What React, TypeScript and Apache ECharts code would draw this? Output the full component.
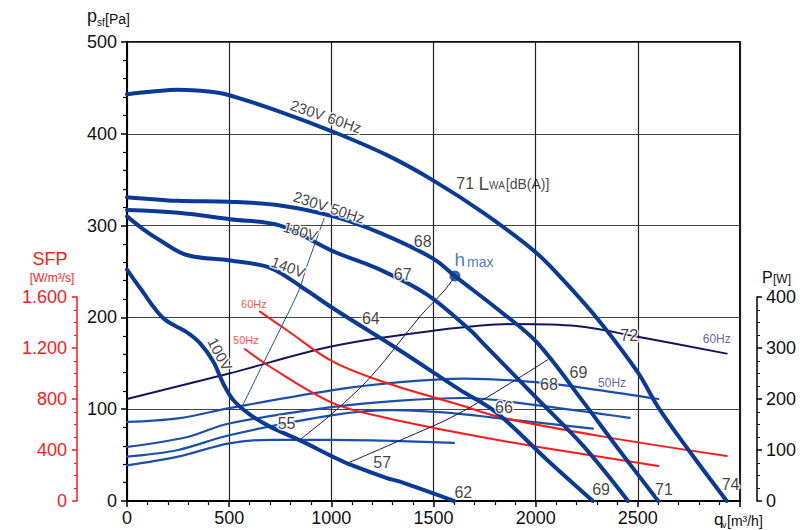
import React, { useEffect, useRef } from "react";
import * as echarts from "echarts";

// Fan characteristic curves: [qv m3/h, psf Pa]
const fan230V60Hz = [[0, 443], [125, 446], [250, 448], [400, 446], [500, 442], [750, 424], [1000, 403], [1270, 377], [1500, 349], [1750, 313], [2000, 271], [2150, 237], [2315, 195], [2500, 140], [2600, 102], [2750, 55], [2935, 0]];
const fan230V50Hz = [[0, 331], [250, 327], [500, 326], [750, 322], [1010, 310], [1238, 292], [1499, 264], [1605, 245], [1825, 207], [2005, 173], [2233, 108], [2400, 58], [2600, 0]];
const fan180V = [[0, 317], [250, 314], [504, 307], [750, 300], [1010, 272], [1238, 252], [1467, 225], [1680, 186], [1742, 172], [2005, 112], [2233, 60], [2452, 0]];
const fan140V = [[0, 310], [80, 296], [161, 284], [292, 268], [504, 262], [700, 254], [862, 232], [1008, 210], [1336, 164], [1630, 121], [1810, 96], [2055, 45], [2280, 0]];
const fan100V = [[0, 252], [64, 232], [178, 199], [292, 184], [357, 172], [422, 152], [471, 128], [520, 110], [602, 94], [700, 81], [847, 66], [1010, 48], [1077, 41], [1272, 25], [1336, 21], [1600, 0]];

// System curves: [qv, psf]
const system1 = [[568, 105], [667, 150], [765, 194], [842, 230], [879, 255], [965, 308]];
const system2 = [[847, 67], [1008, 96], [1200, 137], [1434, 201], [1556, 230], [1605, 245]];
const system3 = [[1077, 41], [1336, 66], [1630, 96], [2060, 154]];

// Power input curves: [qv, P W]
const power60Hz = [[0, 200], [500, 250], [1000, 303], [1500, 334], [1900, 347], [2200, 343], [2500, 322], [2935, 289]];
const power50Hz230V = [[0, 155], [250, 162], [500, 182], [1000, 217], [1336, 233], [1650, 240], [2000, 233], [2300, 218], [2600, 200]];
const power50Hz180V = [[0, 106], [290, 125], [500, 152], [1000, 184], [1336, 197], [1650, 202], [2000, 188], [2460, 163]];
const power50Hz140V = [[0, 87], [250, 100], [500, 129], [1000, 168], [1300, 178], [1600, 172], [1825, 162], [2280, 142]];
const power50Hz100V = [[0, 70], [250, 87], [500, 113], [700, 120], [1000, 120], [1300, 118], [1600, 114]];

// Specific fan power: [qv, SFP W/m3/s]
const sfp60Hz = [[651, 1485], [781, 1341], [1008, 1093], [1272, 925], [1630, 753], [1825, 658], [2331, 505], [2935, 353]];
const sfp50Hz = [[577, 1192], [700, 1053], [1008, 768], [1272, 651], [1630, 533], [2005, 426], [2600, 275]];

const hmaxPoint = [[1605, 245]];

// Axis ranges
const qRange = [0, 3000];
const psfRange = [0, 500];
const sfpRange = [0, 1600];
const powerRange = [0, 400];

const FONT = "'Liberation Sans', Arial, sans-serif";
const NARROW = "'Liberation Sans Narrow', 'Liberation Sans', Arial, sans-serif";

const BLUE = "#0a3a96";
const NAVY = "#15155f";
const MID = "#1c50a8";
const RED = "#ff1a1a";
const LBL = "#3a3a8c";

// Curve annotations, anchored in (qv, psf) coordinates
const curveNotes = [
  { t: "230V 60Hz", q: 974, p: 419, r: -19, fs: 15 },
  { t: "230V 50Hz", q: 989, p: 320, r: -18, fs: 15 },
  { t: "180V", q: 850, p: 294, r: -16, fs: 15 },
  { t: "140V", q: 789, p: 255, r: -20, fs: 15 },
  { t: "100V", q: 455, p: 160, r: -62, fs: 15 },
  { t: "64", q: 1193, p: 199, r: 0, fs: 16 },
  { t: "55", q: 781, p: 84, r: 0, fs: 16 },
  { t: "57", q: 1249, p: 42, r: 0, fs: 16 },
  { t: "62", q: 1646, p: 9, r: 0, fs: 16 },
  { t: "69", q: 2320, p: 12, r: 0, fs: 16 },
  { t: "71", q: 2628, p: 13, r: 0, fs: 16 },
  { t: "74", q: 2954, p: 18, r: 0, fs: 16 },
  { t: "66", q: 1845, p: 102, r: 0, fs: 16 },
  { t: "68", q: 2065, p: 127, r: 0, fs: 16 },
  { t: "69", q: 2209, p: 140, r: 0, fs: 16 },
  { t: "72", q: 2458, p: 180, r: 0, fs: 16 },
  { t: "68", q: 1447, p: 283, r: 0, fs: 16 },
  { t: "67", q: 1349, p: 247, r: 0, fs: 16 },
];
const freqNotes = [
  { t: "60Hz", q: 621, p: 215, c: RED, fs: 11 },
  { t: "50Hz", q: 582, p: 175, c: RED, fs: 11 },
  { t: "60Hz", q: 2886, p: 176, c: LBL, fs: 12 },
  { t: "50Hz", q: 2374, p: 129, c: LBL, fs: 12 },
];

function dotted(v: number) {
  return String(v).replace(/(\d)(?=(\d{3})+$)/g, "$1.");
}

function lineSeries(data: number[][], color: string, width: number, axis: number, yAxis: number, z: number) {
  return {
    type: "line",
    data,
    xAxisIndex: axis,
    yAxisIndex: yAxis,
    showSymbol: false,
    symbol: "none",
    smooth: 0.35,
    silent: true,
    z,
    lineStyle: { color, width, cap: "round", join: "round" },
  };
}

export default function App() {
  const ref = useRef<HTMLDivElement>(null);
  useEffect(() => {
    const chart = echarts.init(ref.current!, null, { renderer: "svg" });
    const noteData = curveNotes.map((n) => ({
      value: [n.q, n.p],
      label: {
        show: true,
        formatter: n.t,
        rotate: n.r,
        position: "inside",
        align: "center",
        verticalAlign: "middle",
        fontSize: n.fs,
        fontFamily: NARROW,
        color: "#111",
        textBorderColor: "#fff",
        textBorderWidth: 3,
      },
    }));
    const freqData = freqNotes.map((n) => ({
      value: [n.q, n.p],
      label: {
        show: true,
        formatter: n.t,
        position: "inside",
        align: "center",
        verticalAlign: "middle",
        fontSize: n.fs,
        fontFamily: FONT,
        color: n.c,
      },
    }));
    const richData = [
      {
        value: [1614, 345],
        label: {
          show: true,
          position: [0, 0],
          align: "left",
          verticalAlign: "middle",
          formatter: "{n|71 }{L|L}{s|WA}{u|[dB(A)]}",
          rich: {
            n: { fontSize: 16, fontFamily: NARROW, color: "#111" },
            L: { fontSize: 19, fontFamily: FONT, color: "#111" },
            s: { fontSize: 10, fontFamily: FONT, color: "#111", padding: [4, 1, 0, 0] },
            u: { fontSize: 14, fontFamily: FONT, color: "#111" },
          },
        },
      },
      {
        value: [1605, 262],
        label: {
          show: true,
          position: [0, 0],
          align: "left",
          verticalAlign: "middle",
          formatter: "{h|h}{m|max}",
          rich: {
            h: { fontSize: 19, fontFamily: FONT, color: "#2458ac" },
            m: { fontSize: 14, fontFamily: FONT, color: "#2458ac", padding: [4, 0, 0, 2] },
          },
        },
      },
    ];

    const option = {
      animation: false,
      backgroundColor: "#fff",
      grid: [
        { left: 127, top: 42, width: 613, height: 459, containLabel: false, show: true, borderColor: "#111", borderWidth: 2, backgroundColor: "transparent" },
        { left: 127, top: 297, width: 613, height: 204, containLabel: false },
      ],
      xAxis: [
        {
          gridIndex: 0,
          type: "value",
          min: qRange[0],
          max: qRange[1],
          interval: 500,
          axisLine: { show: true, onZero: false, lineStyle: { color: "#000", width: 2 } },
          axisTick: { show: true, length: 6, lineStyle: { color: "#000", width: 1.5 } },
          minorTick: { show: true, splitNumber: 5, length: 4, lineStyle: { color: "#000", width: 1.2 } },
          axisLabel: {
            fontSize: 18,
            color: "#111",
            fontFamily: FONT,
            margin: 8,
            formatter: (v: number) => (v === qRange[1] ? "" : String(v)),
          },
          splitLine: { show: true, lineStyle: { color: "#222", width: 1.2 } },
        },
        { gridIndex: 1, type: "value", min: qRange[0], max: qRange[1], show: false },
      ],
      yAxis: [
        {
          gridIndex: 0,
          type: "value",
          min: psfRange[0],
          max: psfRange[1],
          interval: 100,
          axisLine: { show: true, onZero: false, lineStyle: { color: "#000", width: 2 } },
          axisTick: { show: true, length: 6, lineStyle: { color: "#000", width: 1.5 } },
          minorTick: { show: true, splitNumber: 5, length: 4, lineStyle: { color: "#000", width: 1.2 } },
          axisLabel: { fontSize: 18, color: "#111", fontFamily: FONT, margin: 10 },
          splitLine: { show: true, lineStyle: { color: "#444", width: 1.2 } },
        },
        {
          gridIndex: 1,
          type: "value",
          position: "left",
          offset: 50,
          min: sfpRange[0],
          max: sfpRange[1],
          interval: 400,
          axisLine: { show: true, onZero: false, lineStyle: { color: RED, width: 1.5 } },
          axisTick: { show: true, length: 5, lineStyle: { color: RED, width: 1.5 } },
          minorTick: { show: true, splitNumber: 4, length: 3, lineStyle: { color: RED, width: 1 } },
          axisLabel: { fontSize: 18, color: RED, fontFamily: FONT, margin: 10, formatter: (v: number) => dotted(v) },
          splitLine: { show: false },
        },
        {
          gridIndex: 1,
          type: "value",
          position: "right",
          offset: 17,
          min: powerRange[0],
          max: powerRange[1],
          interval: 100,
          axisLine: { show: true, onZero: false, lineStyle: { color: "#000", width: 1.5 } },
          axisTick: { show: true, length: 5, lineStyle: { color: "#000", width: 1.5 } },
          minorTick: { show: true, splitNumber: 4, length: 3, lineStyle: { color: "#000", width: 1 } },
          axisLabel: { fontSize: 18, color: "#111", fontFamily: FONT, margin: 9 },
          splitLine: { show: false },
        },
      ],
      series: [
        lineSeries(power60Hz, NAVY, 2, 1, 2, 2),
        lineSeries(power50Hz230V, MID, 2.2, 1, 2, 2),
        lineSeries(power50Hz180V, MID, 2.2, 1, 2, 2),
        lineSeries(power50Hz140V, MID, 2.2, 1, 2, 2),
        lineSeries(power50Hz100V, MID, 2.2, 1, 2, 2),
        lineSeries(sfp60Hz, RED, 2, 1, 1, 2),
        lineSeries(sfp50Hz, RED, 2, 1, 1, 2),
        lineSeries(system1, MID, 1, 0, 0, 3),
        lineSeries(system2, NAVY, 1, 0, 0, 3),
        lineSeries(system3, NAVY, 1, 0, 0, 3),
        lineSeries(fan230V60Hz, BLUE, 4, 0, 0, 4),
        lineSeries(fan230V50Hz, BLUE, 4, 0, 0, 4),
        lineSeries(fan180V, BLUE, 4, 0, 0, 4),
        lineSeries(fan140V, BLUE, 4, 0, 0, 4),
        lineSeries(fan100V, BLUE, 4, 0, 0, 4),
        {
          type: "scatter",
          data: hmaxPoint,
          xAxisIndex: 0,
          yAxisIndex: 0,
          symbol: "circle",
          symbolSize: 11,
          itemStyle: { color: BLUE },
          silent: true,
          z: 5,
        },
        {
          type: "scatter",
          data: [...noteData, ...freqData, ...richData],
          xAxisIndex: 0,
          yAxisIndex: 0,
          symbolSize: 1,
          itemStyle: { color: "rgba(0,0,0,0)" },
          silent: true,
          z: 6,
        },
      ],
      graphic: [
        { type: "text", x: 87, y: 16, style: { text: "p", fontSize: 18, fontFamily: FONT, fill: "#111", align: "left", verticalAlign: "middle" } },
        { type: "text", x: 97, y: 22, style: { text: "sf", fontSize: 10, fontFamily: FONT, fill: "#111", align: "left", verticalAlign: "middle" } },
        { type: "text", x: 105, y: 19, style: { text: "[Pa]", fontSize: 14, fontFamily: FONT, fill: "#111", align: "left", verticalAlign: "middle" } },
        { type: "text", x: 50, y: 259, style: { text: "SFP", fontSize: 18, fontFamily: FONT, fill: RED, align: "center", verticalAlign: "middle" } },
        { type: "text", x: 52, y: 278, style: { text: "[W/m³/s]", fontSize: 12, fontFamily: FONT, fill: RED, align: "center", verticalAlign: "middle" } },
        { type: "text", x: 762, y: 277, style: { text: "P", fontSize: 16, fontFamily: FONT, fill: "#111", align: "left", verticalAlign: "middle" } },
        { type: "text", x: 773, y: 279, style: { text: "[W]", fontSize: 12, fontFamily: FONT, fill: "#111", align: "left", verticalAlign: "middle" } },
        { type: "text", x: 714, y: 519, style: { text: "q", fontSize: 17, fontFamily: FONT, fill: "#111", align: "left", verticalAlign: "middle" } },
        { type: "text", x: 722, y: 525, style: { text: "v", fontSize: 9, fontFamily: FONT, fill: "#111", align: "left", verticalAlign: "middle" } },
        { type: "text", x: 727, y: 521, style: { text: "[m³/h]", fontSize: 14, fontFamily: FONT, fill: "#111", align: "left", verticalAlign: "middle" } },
      ],
    };
    chart.setOption(option as any);
    return () => chart.dispose();
  }, []);
  return (
    <div
      ref={ref}
      style={{ position: "fixed", left: 0, top: 0, width: 810, height: 530, background: "#fff" }}
    />
  );
}
